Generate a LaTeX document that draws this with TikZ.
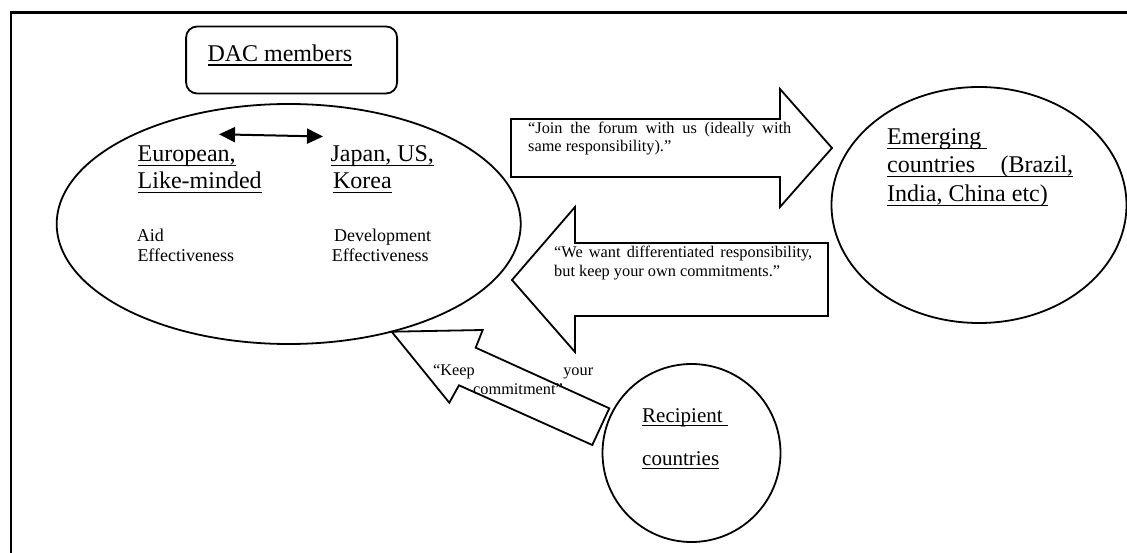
\documentclass[tikz,border=0pt]{standalone}
\usepackage{fontspec}
\setmainfont{Liberation Serif}
\usetikzlibrary{shapes.geometric,arrows.meta}
% underlined text with a rule under its full (natural) width
\newcommand\ulw[1]{\setbox0\hbox{#1}\rlap{\rule[-4.2pt]{\wd0}{1.4pt}}\box0}
\tikzset{
  big/.style={font=\fontsize{24}{28}\selectfont, anchor=base west, inner sep=0pt},
  mid/.style={font=\fontsize{21}{25}\selectfont, anchor=base west, inner sep=0pt},
  small/.style={font=\fontsize{18}{21}\selectfont, anchor=base west, inner sep=0pt},
  quote/.style={font=\fontsize{16.3}{19}\selectfont, anchor=base west, inner sep=0pt},
  outline/.style={draw, line width=1.8pt, inner sep=0pt},
  blockarrow/.style={draw, line width=1.8pt, line join=miter, fill=white},
}
\begin{document}
\begin{tikzpicture}[x=1pt,y=-1pt]
\useasboundingbox (0,0) rectangle (1127,553);
% page frame
\draw[line width=2.4pt] (10.7,560) -- (10.7,12.5) -- (1140,12.5);

% groups
\node[outline, rounded corners=11pt, minimum width=211pt, minimum height=67pt] (dacbox) at (291.6,60) {};
\node[big] (dac) at (207.3,61.7) {\ulw{DAC members}};
\node[outline, ellipse, minimum width=464pt, minimum height=240pt] (members) at (288.7,224) {};
\node[outline, ellipse, minimum width=295pt, minimum height=236pt] (emerging) at (979,205) {};
\node[outline, circle, minimum size=178pt] (recipient) at (691.5,453) {};

% inside the DAC ellipse
\coordinate (dl) at (219,134.3);
\coordinate (dr) at (323,136.5);
\draw[line width=2pt, {Triangle[length=16pt,width=15pt]}-{Triangle[length=16pt,width=15pt]}] (dl) -- (dr);
\node[big] (eu1) at (137.5,162) {\ulw{European,}};
\node[big] (eu2) at (137.5,189) {\ulw{Like-minded}};
\node[big] (jp1) at (330.4,162) {\ulw{Japan, US,}};
\node[big] (jp2) at (332.9,189) {\ulw{Korea}};
\node[small] (aid1) at (136.7,241.7) {Aid};
\node[small] (aid2) at (137.3,262) {Effectiveness};
\node[small] (dev1) at (334,241.7) {Development};
\node[small] (dev2) at (331.7,262) {Effectiveness};

% emerging countries
\node[big] (em1) at (887,145) {\ulw{Emerging\ }};
\node[big] (em2) at (887,173) {\ulw{\makebox[186pt][s]{countries (Brazil,}}};
\node[big] (em3) at (887,202) {\ulw{India, China etc)}};

% recipient countries
\node[mid] (rc1) at (642,422) {\ulw{Recipient\ }};
\node[mid] (rc2) at (642,465) {\ulw{countries}};

% block arrows
\draw[blockarrow] (511,119) -- (780,119) -- (780,89) -- (832,148) -- (780,207) -- (780,177) -- (511,177) -- cycle;
\draw[blockarrow] (828,243) -- (575,243) -- (575,207) -- (512,280) -- (575,352) -- (575,316) -- (828,316) -- cycle;
\draw[blockarrow] (391.7,331.7) -- (482.7,330) -- (475.7,347.7) -- (609.3,408.3) -- (592.3,445) -- (459,385.3) -- (449.3,402.7) -- cycle;

% messages
\node[quote] (join1) at (528,134) {\makebox[263pt][s]{“Join the forum with us (ideally with}};
\node[quote] (join2) at (528,152) {same responsibility).”};
\node[quote] (want1) at (554,258) {\makebox[258pt][s]{“We want differentiated responsibility,}};
\node[quote] (want2) at (554,277) {but keep your own commitments.”};
\node[quote] (keep1) at (433,375) {\makebox[160pt][s]{“Keep your}};
\node[quote] (keep2) at (473,394) {commitment”};
\end{tikzpicture}
\end{document}
